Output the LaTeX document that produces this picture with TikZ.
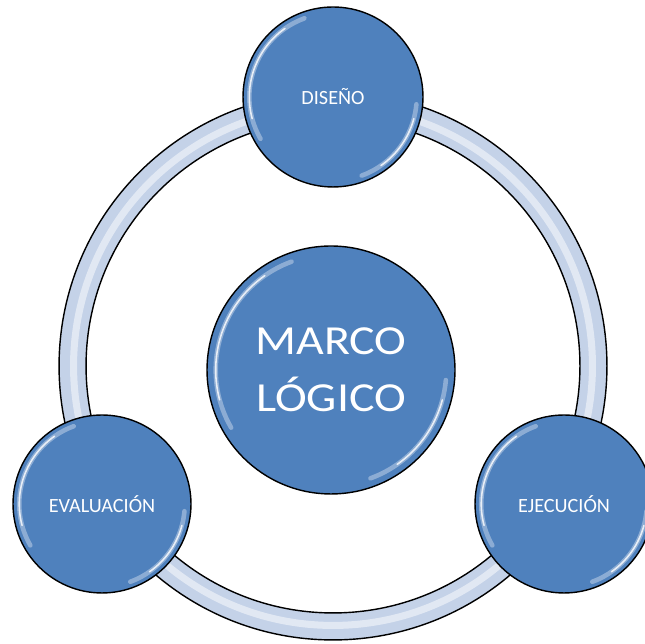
\documentclass[tikz,border=0pt]{standalone}
\usepackage{fontspec}
\setmainfont{Carlito}
\usetikzlibrary{positioning}
\definecolor{bubbleblue}{RGB}{79,129,189}
\definecolor{ringblue}{RGB}{196,210,232}

\begin{document}
\begin{tikzpicture}[x=0.02cm, y=0.02cm,
        bubble/.style={circle, draw=black, line width=0.8pt, fill=bubbleblue, text=white, inner sep=0pt, align=center},
        gloss/.style={white, opacity=0.35, line width=2.6pt, line cap=round},
        glint/.style={white, opacity=0.8, line width=0.9pt, line cap=round}]
        \useasboundingbox (0,0) rectangle (645,644);
        \coordinate (O) at (333,278);

        % the ring behind everything
        \fill[ringblue, even odd rule] (O) circle (5.48cm) (O) circle (4.94cm);
        \draw[white, opacity=0.5, line width=4pt] (O) circle (5.19cm);
        \draw[black, line width=0.8pt] (O) circle (5.48cm);
        \draw[black, line width=0.8pt] (O) circle (4.94cm);

        % bubbles
        \node[bubble, minimum size=3.6cm, font=\fontsize{11.5}{14}\selectfont] (dis) at (333,547) {DISEÑO};
        \node[bubble, minimum size=3.56cm, font=\fontsize{11.5}{14}\selectfont] (eva) at (102,140) {EVALUACIÓN};
        \node[bubble, minimum size=3.56cm, font=\fontsize{11.5}{14}\selectfont] (eje) at (564,140) {EJECUCIÓN};
        \node[bubble, minimum size=4.96cm, font=\fontsize{23.5}{32.5}\selectfont] (mar) at (331,274)
            {\scalebox{1.16}[1]{MARCO}\\\scalebox{1.16}[1]{LÓGICO}};

        % shine on the bubbles
        \foreach \n/\r in {dis/1.8, eva/1.78, eje/1.78, mar/2.48} {
            \draw[gloss] ([shift={(110:\r*0.93cm)}]\n.center) arc (110:210:\r*0.93cm);
            \draw[glint] ([shift={(125:\r*0.93cm)}]\n.center) arc (125:195:\r*0.93cm);
            \draw[gloss] ([shift={(-5:\r*0.93cm)}]\n.center) arc (-5:-70:\r*0.93cm);
            \draw[glint] ([shift={(-15:\r*0.93cm)}]\n.center) arc (-15:-55:\r*0.93cm);
        }
    \end{tikzpicture}
\end{document}
